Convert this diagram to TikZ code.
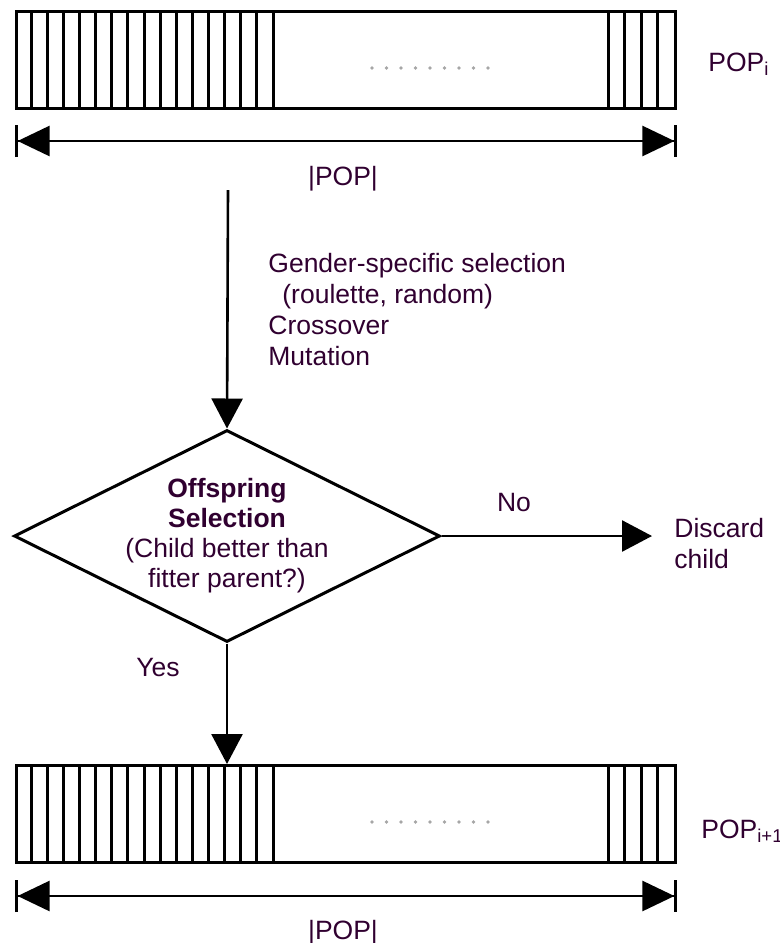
\documentclass[tikz,border=0pt]{standalone}
\usepackage{fontspec}
\setmainfont{Liberation Sans}
\usetikzlibrary{positioning,shapes.geometric,arrows.meta}
\definecolor{txt}{RGB}{48,0,48}

\begin{document}
\begin{tikzpicture}[x=0.5pt, y=-0.5pt, font=\fontsize{13.25pt}{15.5pt}\selectfont,
                        >={Triangle[length=15pt,width=15.5pt]},
                        every node/.append style={text=txt},
                        pop/.style={draw,line width=1.5pt,minimum width=329.5pt,minimum height=48.5pt,inner sep=0pt,anchor=north west},
                        stripe/.style={line width=1.5pt},
                        pil/.style={->,line width=1.3pt},
                        size/.style={{Bar[width=16pt]Triangle[length=16pt,width=15pt]}-{Triangle[length=16pt,width=15pt]Bar[width=16pt]},line width=1.3pt},
                        lbl/.style={inner sep=0pt}
                        ]
    \useasboundingbox (0,0) rectangle (780,943);
    % populations
    \node (popi) [pop] at (15,10) {};
    \node (popn) [pop] at (15,764) {};
    \foreach \b in {popi,popn} {
      \foreach \k in {1,...,16}
        \draw[stripe] ([xshift=\k*8.0625pt]\b.north west) -- ([xshift=\k*8.0625pt]\b.south west);
      \foreach \k in {0,...,3}
        \draw[stripe] ([xshift=296.5pt+\k*8.25pt]\b.north west) -- ([xshift=296.5pt+\k*8.25pt]\b.south west);
    }
    \foreach \i in {0,...,8} {
      \fill[gray!70] (372+14.5*\i,68) circle (0.9pt);
      \fill[gray!70] (372+14.5*\i,822) circle (0.9pt);
    }
    \node (labi) [lbl,anchor=base west] at (708,71) {POP\textsubscript{i}};
    \node (labn) [lbl,anchor=base west] at (701,838) {POP\textsubscript{i+1}};
    % sizes
    \coordinate (il) at ([yshift=-15.5pt]popi.south west);
    \coordinate (ir) at ([yshift=-15.5pt]popi.south east);
    \coordinate (nl) at ([yshift=-16pt]popn.south west);
    \coordinate (nr) at ([yshift=-16pt]popn.south east);
    \draw[size] (il) -- (ir);
    \draw[size] (nl) -- (nr);
    \node (szi) [lbl,anchor=base] at (343,185) {|POP|};
    \node (szn) [lbl,anchor=base] at (343,939) {|POP|};
    % operators
    \coordinate (src) at (228,190);
    \node (ops) [lbl,anchor=north west,align=left] at (268,253) {Gender-specific selection\\\hspace*{7pt}(roulette, random)\\Crossover\\Mutation};
    \node (sel) [diamond,aspect=2,draw,line width=1.5pt,minimum width=213pt,minimum height=106pt,inner sep=-3pt,align=center,
                 font=\fontsize{13.25pt}{15pt}\selectfont] at (227,536)
                 {\textbf{Offspring}\\\textbf{Selection}\\(Child better than\\fitter parent?)};
    \node (dis) [lbl,anchor=north west,align=left] at (674,518) {Discard\\child};
    \coordinate (end) at (652,536);
    \draw[pil] (src) -- (sel.north);
    \draw[pil] (sel.east) -- (end);
    \draw[pil] (sel.south) -- (sel.south |- popn.north);
    \node (no) [lbl] at (514,503) {No};
    \node (yes) [lbl] at (158,668) {Yes};
\end{tikzpicture}
\end{document}
